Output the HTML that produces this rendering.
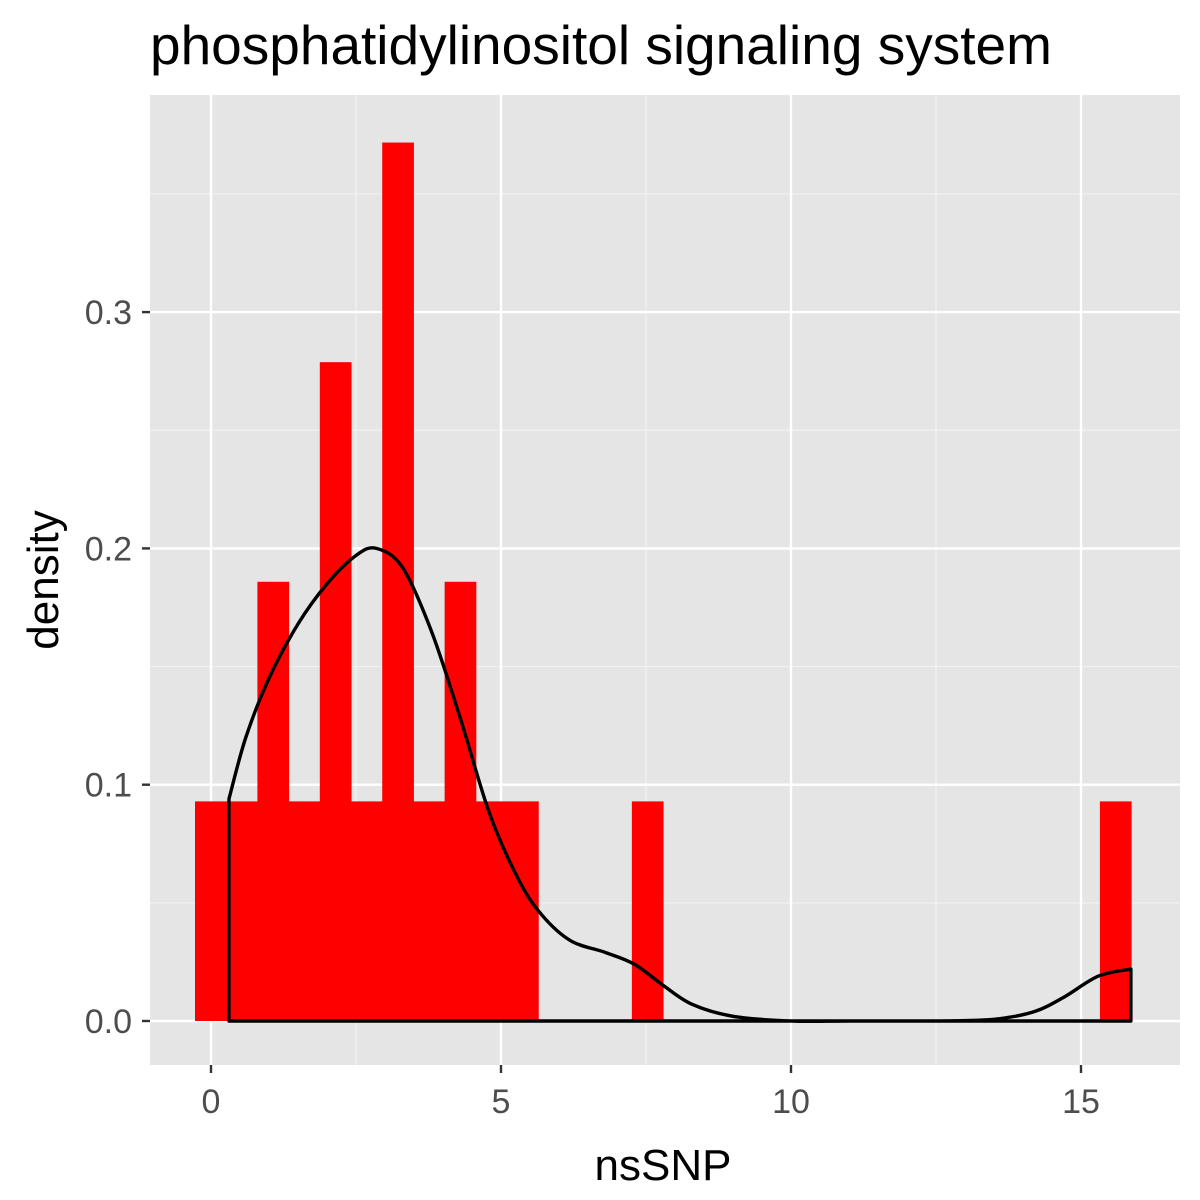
<!DOCTYPE html>
<html><head><meta charset="utf-8"><style>
body{margin:0;background:#fff}
svg{display:block;font-family:"Liberation Sans",Arial,sans-serif}
</style></head><body>
<svg id="chart" width="1200" height="1200" viewBox="0 0 1200 1200" xmlns="http://www.w3.org/2000/svg">
<rect x="0" y="0" width="1200" height="1200" fill="#fff"/>
<text x="150" y="64" font-size="55" fill="#000">phosphatidylinositol signaling system</text>
<rect x="150" y="95" width="1030" height="970" fill="#e5e5e5"/>
<g id="grid"></g>
<g id="bars"></g>
<g id="dens"></g>
<g id="axes"></g>
<text x="663" y="1180" font-size="44" text-anchor="middle" fill="#000">nsSNP</text>
<text x="0" y="0" font-size="44" text-anchor="middle" fill="#000" transform="translate(58,580) rotate(-90)">density</text>
</svg>
<script>
const binStart = -0.276;
const binWidth = 0.538;
const binCounts = [1,1,2,1,3,1,4,1,2,1,1,0,0,0,1,0,0,0,0,0,0,0,0,0,0,0,0,0,0,1];
const totalN = 20;
const densX = [0.31,0.6,1,1.5,2,2.5,2.85,3.3,3.8,4.3,4.8,5.3,5.7,6.2,6.8,7.3,7.8,8.3,9,10,11,12,13,13.6,14.2,14.7,15.3,15.86];
const densY = [0.094,0.12,0.145,0.168,0.185,0.197,0.2,0.192,0.165,0.128,0.088,0.06,0.045,0.034,0.029,0.024,0.015,0.007,0.002,0.0,0.0,0.0,0.0002,0.001,0.004,0.01,0.019,0.022];
const xTicks = [0,5,10,15];
const xMinor = [2.5,7.5,12.5];
const yTicks = [0,0.1,0.2,0.3];
const yTickLabels = ["0.0","0.1","0.2","0.3"];
const yMinor = [0.05,0.15,0.25,0.35];

const NS="http://www.w3.org/2000/svg";
const xs = v => 211 + v*58;
const ys = v => 1021 - v*2363;
function mk(tag, attrs, parent){const e=document.createElementNS(NS,tag);for(const k in attrs)e.setAttribute(k,attrs[k]);parent.appendChild(e);return e;}
const grid=document.getElementById('grid'), bars=document.getElementById('bars'), dens=document.getElementById('dens'), axes=document.getElementById('axes');
xMinor.forEach(v=>{const l=mk('line',{x1:xs(v),x2:xs(v),y1:95,y2:1065,stroke:'#f2f2f2','stroke-width':1.2},grid);

});
yMinor.forEach(v=>{const l=mk('line',{x1:150,x2:1180,y1:ys(v),y2:ys(v),stroke:'#f2f2f2','stroke-width':1.2},grid);

});
xTicks.forEach(v=>{const l=mk('line',{x1:xs(v),x2:xs(v),y1:95,y2:1065,stroke:'#fff','stroke-width':2.4},grid);


const t=mk('line',{x1:xs(v),x2:xs(v),y1:1065,y2:1073,stroke:'#333','stroke-width':2.4},axes);


const tx=mk('text',{x:xs(v),y:1113,'font-size':34,'text-anchor':'middle',fill:'#4d4d4d'},axes);tx.textContent=v;

});
yTicks.forEach((v,i)=>{const l=mk('line',{x1:150,x2:1180,y1:ys(v),y2:ys(v),stroke:'#fff','stroke-width':2.4},grid);


const t=mk('line',{x1:142,x2:150,y1:ys(v),y2:ys(v),stroke:'#333','stroke-width':2.4},axes);


const tx=mk('text',{x:132,y:ys(v)+12,'font-size':34,'text-anchor':'end',fill:'#4d4d4d'},axes);tx.textContent=yTickLabels[i];

});
binCounts.forEach((c,i)=>{if(!c)return;const d=c/(totalN*binWidth);const x0=xs(binStart+i*binWidth),x1=xs(binStart+(i+1)*binWidth);
const r=mk('rect',{x:x0,y:ys(d),width:x1-x0+0.5,height:ys(0)-ys(d),fill:'#ff0000'},bars);

});
const P=densX.map((v,i)=>[xs(v),ys(densY[i])]);
let d='M'+P[0][0]+','+ys(0)+' L'+P[0][0]+','+P[0][1];
for(let i=0;i<P.length-1;i++){
  const p0=P[Math.max(0,i-1)],p1=P[i],p2=P[i+1],p3=P[Math.min(P.length-1,i+2)];
  const c1=[p1[0]+(p2[0]-p0[0])/6,p1[1]+(p2[1]-p0[1])/6];
  const c2=[p2[0]-(p3[0]-p1[0])/6,p2[1]-(p3[1]-p1[1])/6];
  d+=' C'+c1[0]+','+c1[1]+' '+c2[0]+','+c2[1]+' '+p2[0]+','+p2[1];
}
d+=' L'+P[P.length-1][0]+','+ys(0)+' Z';
const p=mk('path',{d:d,fill:'none',stroke:'#000','stroke-width':3.4,'stroke-linejoin':'round'},dens);


</script>
</body></html>
